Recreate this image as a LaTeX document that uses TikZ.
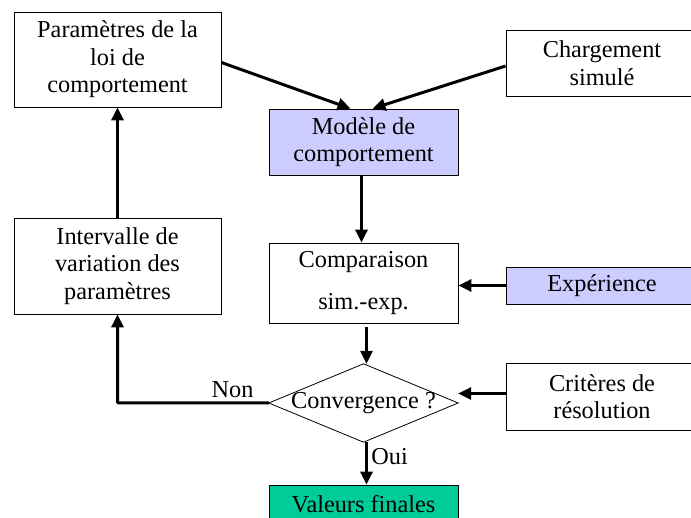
\documentclass[tikz,border=0pt]{standalone}
\usepackage{fontspec}
\setmainfont{Liberation Serif}
\usetikzlibrary{arrows.meta}
\definecolor{lavande}{RGB}{204,204,255}
\definecolor{vertfin}{RGB}{0,204,153}

\begin{document}
\begin{tikzpicture}[x=1pt, y=-1pt,
  every node/.style={font=\fontsize{24.3}{27.5}\selectfont},
  bloc/.style={draw, line width=0.8pt, align=center, inner sep=0pt},
  fleche/.style={-{Triangle[length=13pt, width=12pt]}, line width=3pt}]

  \useasboundingbox (0,0) rectangle (691,518);

  % Left column
  \node[bloc, minimum width=207pt, minimum height=95pt] (param) at (117.5,59.5)
    {Paramètres de la\\loi de\\comportement};
  \node[bloc, minimum width=207pt, minimum height=96pt] (interv) at (117.5,266)
    {Intervalle de\\variation des\\paramètres};

  % Middle column
  \node[bloc, fill=lavande, minimum width=189pt, minimum height=66pt] (modele) at (363.5,142)
    {Modèle de\\comportement};
  \node[bloc, minimum width=189pt, minimum height=80pt] (compar) at (363.5,283)
    {Comparaison\\[14pt]sim.-exp.};
  \node[inner sep=0pt, minimum width=189pt, minimum height=78pt] (conv) at (363.5,403)
    {Convergence ?};
  \draw[line width=0.8pt] (conv.west) -- (conv.north) -- (conv.east) -- (conv.south) -- cycle;
  \node[bloc, fill=vertfin, minimum width=189pt, minimum height=38pt] (valeurs) at (363.5,504)
    {Valeurs finales};

  % Right column (cut by the page edge)
  \node[bloc, minimum width=192pt, minimum height=66pt] (charg) at (602,63)
    {Chargement\\simulé};
  \node[bloc, fill=lavande, minimum width=192pt, minimum height=37pt] (exper) at (602,285.5)
    {Expérience};
  \node[bloc, minimum width=192pt, minimum height=67pt] (crit) at (602,396.5)
    {Critères de\\résolution};

  % Connectors
  \draw[fleche] ([yshift=-3pt]param.east) -- ([xshift=-13pt]modele.north);
  \draw[fleche] ([yshift=-3pt]charg.west) -- ([xshift=9pt]modele.north);
  \draw[fleche] ([xshift=-2pt]modele.south) -- ([xshift=-2pt]compar.north);
  \draw[fleche] (exper.west) -- (exper.west -| compar.east);
  \draw[fleche] ([xshift=3pt]compar.south) ++(0,4) -- ([xshift=3pt]conv.north);
  \draw[fleche] ([yshift=3pt]crit.west) -- ([yshift=3pt]crit.west -| conv.east);
  \draw[fleche] ([xshift=3pt]conv.south) -- node[right, pos=0.35] {Oui} ([xshift=3pt]valeurs.north);
  \draw[fleche, rounded corners=1pt] (conv.west) -| node[above, pos=0.12] {Non} (interv.south);
  \draw[fleche] (interv.north) -- (param.south);

\end{tikzpicture}
\end{document}
